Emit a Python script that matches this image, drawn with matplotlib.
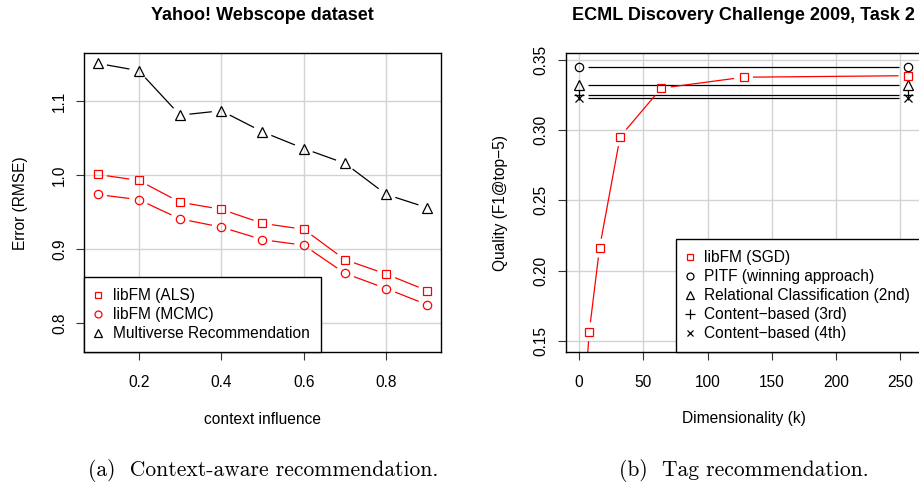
import numpy as np
import matplotlib
matplotlib.use("Agg")
import matplotlib.pyplot as plt
from matplotlib.lines import Line2D

plt.rcParams['font.family'] = ['Liberation Sans', 'DejaVu Sans']

# ---------------- data ----------------
context_influence = [0.1, 0.2, 0.3, 0.4, 0.5, 0.6, 0.7, 0.8, 0.9]
rmse_als = [1.001, 0.993, 0.9635, 0.954, 0.935, 0.927, 0.886, 0.8665, 0.844]
rmse_mcmc = [0.974, 0.967, 0.941, 0.930, 0.913, 0.9055, 0.8675, 0.847, 0.825]
rmse_multiverse = [1.151, 1.141, 1.081, 1.087, 1.0585, 1.036, 1.016, 0.974, 0.956]

dims = [4, 8, 16, 32, 64, 128, 256]
f1_sgd = [0.105, 0.1566, 0.2161, 0.2952, 0.3297, 0.3375, 0.3386]
baseline_k = [0, 256]
f1_pitf = 0.345
f1_relational = 0.332
f1_content3 = 0.3247
f1_content4 = 0.3225

left_xticks = [0.2, 0.4, 0.6, 0.8]
left_yticks = [0.8, 0.9, 1.0, 1.1]
right_xticks = [0, 50, 100, 150, 200, 250]
right_yticks = [0.15, 0.20, 0.25, 0.30, 0.35]

RED = '#FF0000'
GRID = '#D3D3D3'
FS = 11.2

fig = plt.figure(figsize=(9.2, 4.87), dpi=100)
W, H = 920.0, 487.0


def axes_px(l, r, t, b):
    return fig.add_axes([l / W, 1 - b / H, (r - l) / W, (b - t) / H])


ax1 = axes_px(84.3, 440.7, 53.3, 352.3)
ax2 = axes_px(565.8, 921.2, 53.3, 352.3)

for ax in (ax1, ax2):
    ax.set_axisbelow(True)
    ax.grid(True, color=GRID, lw=1.0)
    for s in ax.spines.values():
        s.set_linewidth(1.0)
        s.set_color('black')
    ax.tick_params(direction='out', length=5.5, width=0.8, labelsize=FS, color='#333333')
    ax.tick_params(axis='y', labelrotation=90)

ax1.set_xlim(0.068, 0.932)
ax1.set_ylim(0.761, 1.1645)
ax1.set_xticks(left_xticks)
ax1.set_yticks(left_yticks)
ax1.set_xticklabels([f"{v:.1f}" for v in left_xticks])
ax1.set_yticklabels([f"{v:.1f}" for v in left_yticks], va='center')

ax2.set_xlim(-10.24, 266.24)
ax2.set_ylim(0.142, 0.3545)
ax2.set_xticks(right_xticks)
ax2.set_yticks(right_yticks)
ax2.set_xticklabels([str(v) for v in right_xticks])
ax2.set_yticklabels([f"{v:.2f}" for v in right_yticks], va='center')

for ax in (ax1, ax2):
    ax.tick_params(axis='x', pad=10.5)
    ax.tick_params(axis='y', pad=7)


def plot_b(ax, xs, ys, color, marker, ms, gap=9.5, lw=0.9):
    """R type='b': line segments with gaps around the points."""
    pts = ax.transData.transform(np.column_stack([xs, ys]))
    inv = ax.transData.inverted()
    for p0, p1 in zip(pts[:-1], pts[1:]):
        d = p1 - p0
        L = np.hypot(*d)
        if L <= 2 * gap:
            continue
        u = d / L
        a = inv.transform(p0 + u * gap)
        b = inv.transform(p1 - u * gap)
        ax.plot([a[0], b[0]], [a[1], b[1]], color=color, lw=lw,
                solid_capstyle='butt')
    ax.plot(xs, ys, ls='none', marker=marker, mfc='none', mec=color,
            ms=ms, mew=0.9)


# ---- left panel ----
plot_b(ax1, context_influence, rmse_multiverse, 'black', '^', 6.5)
plot_b(ax1, context_influence, rmse_als, RED, 's', 5.8)
plot_b(ax1, context_influence, rmse_mcmc, RED, 'o', 6.0)

# ---- right panel ----
plot_b(ax2, baseline_k, [f1_pitf] * 2, 'black', 'o', 6.0)
plot_b(ax2, baseline_k, [f1_relational] * 2, 'black', '^', 6.5)
plot_b(ax2, baseline_k, [f1_content3] * 2, 'black', '+', 7.0)
plot_b(ax2, baseline_k, [f1_content4] * 2, 'black', 'x', 5.5)
plot_b(ax2, dims, f1_sgd, RED, 's', 5.8)


def proxy(marker, color, ms):
    return Line2D([], [], ls='none', marker=marker, mfc='none', mec=color,
                  ms=ms, mew=0.9)


leg_kw = dict(fontsize=FS, frameon=True, fancybox=False, framealpha=1,
              edgecolor='black', borderaxespad=0, borderpad=0.7,
              handlelength=0.36, handletextpad=0.78, labelspacing=0.26,
              numpoints=1)

l1 = ax1.legend([proxy('s', RED, 4.8), proxy('o', RED, 5.0), proxy('^', 'black', 5.2)],
                ['libFM (ALS)', 'libFM (MCMC)', 'Multiverse Recommendation'],
                loc='lower left', bbox_to_anchor=(0, 0), **leg_kw)
l1.get_frame().set_linewidth(1.0)

l2 = ax2.legend([proxy('s', RED, 4.8), proxy('o', 'black', 5.0), proxy('^', 'black', 5.2),
                 proxy('+', 'black', 6.5), proxy('x', 'black', 5.0)],
                ['libFM (SGD)', 'PITF (winning approach)', 'Relational Classification (2nd)',
                 'Content\u2212based (3rd)', 'Content\u2212based (4th)'],
                loc='lower right', bbox_to_anchor=(1, 0), **leg_kw)
l2.get_frame().set_linewidth(1.0)

# ---- titles and labels ----
title_y = (352.3 - 15) / 299.0
ax1.set_title('Yahoo! Webscope dataset', fontsize=13, fontweight='bold',
              y=title_y, va='center', pad=0)
ax2.set_title('ECML Discovery Challenge 2009, Task 2', fontsize=13, fontweight='bold',
              y=title_y, va='center', pad=0)

ax1.set_xlabel('context influence', fontsize=FS)
ax1.xaxis.set_label_coords(0.5, (352.3 - 419) / 299.0)
ax1.xaxis.label.set_va('center')
ax1.set_ylabel('Error (RMSE)', fontsize=FS)
ax1.yaxis.set_label_coords((20 - 84.3) / 356.4, 0.5)
ax1.yaxis.label.set_va('center')

ax2.set_xlabel('Dimensionality (k)', fontsize=FS)
ax2.xaxis.set_label_coords(0.5, (352.3 - 419) / 299.0)
ax2.xaxis.label.set_va('center')
ax2.set_ylabel('Quality (F1@top\u22125)', fontsize=FS)
ax2.yaxis.set_label_coords((501 - 565.8) / 355.4, 0.5)
ax2.yaxis.label.set_va('center')

cap_kw = dict(family=['cmr10', 'DejaVu Serif'], fontsize=15.5, ha='center', va='center')
fig.text(263 / W, 1 - 470 / H, '(a)  Context-aware recommendation.', **cap_kw)
fig.text(743.5 / W, 1 - 470 / H, '(b)  Tag recommendation.', **cap_kw)

fig.savefig('out.png', dpi=100)
